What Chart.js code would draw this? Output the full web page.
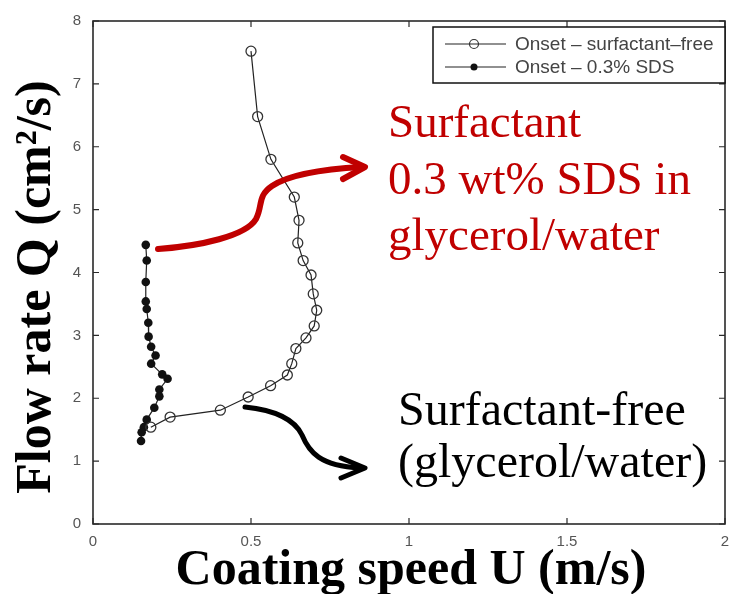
<!DOCTYPE html>
<html>
<head>
<meta charset="utf-8">
<script src="https://cdn.jsdelivr.net/npm/chart.js@4.4.1/dist/chart.umd.min.js"></script>
<style>
  html, body { margin: 0; padding: 0; background: #fff; }
  #wrap { position: relative; width: 739px; height: 594px; }
</style>
</head>
<body>
<div id="wrap"><canvas id="c" width="739" height="594"></canvas></div>
<script>
// ---- data ----
const surfFreeU = [0.500,0.521,0.563,0.637,0.652,0.648,0.665,0.690,0.697,0.708,0.700,0.674,0.642,0.629,0.615,0.562,0.491,0.403,0.244,0.183];
const surfFreeQ = [7.52,6.48,5.80,5.20,4.83,4.47,4.19,3.96,3.66,3.40,3.15,2.96,2.79,2.55,2.37,2.20,2.02,1.81,1.70,1.54];
const sdsU = [0.167,0.170,0.167,0.167,0.170,0.175,0.176,0.184,0.198,0.184,0.219,0.236,0.210,0.210,0.194,0.170,0.161,0.154,0.152];
const sdsQ = [4.44,4.19,3.85,3.54,3.42,3.20,2.98,2.82,2.68,2.55,2.38,2.31,2.14,2.03,1.85,1.66,1.54,1.46,1.32];
const xTickValues = [0, 0.5, 1, 1.5, 2];
const xTickLabels = ['0', '0.5', '1', '1.5', '2'];
const yTickValues = [0, 1, 2, 3, 4, 5, 6, 7, 8];
const yTickLabels = ['0', '1', '2', '3', '4', '5', '6', '7', '8'];
const seriesNames = ['Onset \u2013 surfactant\u2013free', 'Onset \u2013 0.3% SDS'];
const xTitle = 'Coating speed U (m/s)';
const yTitle = 'Flow rate Q (cm\u00B2/s)';
const redNote = ['Surfactant', '0.3 wt% SDS in', 'glycerol/water'];
const blackNote = ['Surfactant-free', '(glycerol/water)'];

const toPts = (xs, ys) => xs.map((x, i) => ({ x: x, y: ys[i] }));

const RED = '#c00000';
const SERIF = "'Liberation Serif', 'Times New Roman', serif";
const SANS = "'Liberation Sans', Arial, sans-serif";

const decor = {
  id: 'decor',
  afterDatasetsDraw(chart) {
    const ctx = chart.ctx;
    const a = chart.chartArea;
    const xs = chart.scales.x, ys = chart.scales.y;
    ctx.save();
    // frame
    ctx.strokeStyle = '#2a2a2a';
    ctx.lineWidth = 1.6;
    ctx.strokeRect(a.left, a.top, a.right - a.left, a.bottom - a.top);
    // inward ticks on all four sides
    ctx.lineWidth = 1.2;
    const tl = 6;
    ctx.beginPath();
    xTickValues.forEach(v => {
      const px = xs.getPixelForValue(v);
      ctx.moveTo(px, a.bottom); ctx.lineTo(px, a.bottom - tl);
      ctx.moveTo(px, a.top); ctx.lineTo(px, a.top + tl);
    });
    yTickValues.forEach(v => {
      const py = ys.getPixelForValue(v);
      ctx.moveTo(a.left, py); ctx.lineTo(a.left + tl, py);
      ctx.moveTo(a.right, py); ctx.lineTo(a.right - tl, py);
    });
    ctx.stroke();

    // legend box
    const lx = 433, ly = 27, lw = a.right - 433, lh = 56;
    ctx.fillStyle = '#fff';
    ctx.fillRect(lx, ly, lw, lh);
    ctx.strokeStyle = '#111';
    ctx.lineWidth = 1.5;
    ctx.strokeRect(lx, ly, lw, lh);
    const rows = [44, 67];
    chart.data.datasets.forEach((ds, i) => {
      const y = rows[i];
      ctx.strokeStyle = ds.borderColor;
      ctx.lineWidth = 1.2;
      ctx.beginPath(); ctx.moveTo(445, y); ctx.lineTo(506, y); ctx.stroke();
      ctx.beginPath();
      ctx.arc(474, y, i === 0 ? 4.5 : 3.5, 0, Math.PI * 2);
      if (i === 0) { ctx.strokeStyle = ds.pointBorderColor; ctx.stroke(); }
      else { ctx.fillStyle = ds.pointBackgroundColor; ctx.fill(); }
      ctx.fillStyle = '#444';
      ctx.font = '19px ' + SANS;
      ctx.textBaseline = 'middle';
      ctx.textAlign = 'left';
      ctx.fillText(ds.label, 515, y + 1);
    });

    // axis titles
    ctx.fillStyle = '#000';
    ctx.font = 'bold 50px ' + SERIF;
    ctx.textBaseline = 'alphabetic';
    ctx.textAlign = 'center';
    ctx.fillText(xTitle, (a.left + a.right) / 2 + 2, 584);
    ctx.save();
    ctx.translate(50, 287);
    ctx.rotate(-Math.PI / 2);
    ctx.fillText(yTitle, 0, 0);
    ctx.restore();

    // red annotation
    ctx.font = '47px ' + SERIF;
    ctx.textAlign = 'left';
    ctx.fillStyle = RED;
    const redBase = [137, 194, 250];
    redNote.forEach((t, i) => ctx.fillText(t, 388, redBase[i]));
    ctx.strokeStyle = RED;
    ctx.lineWidth = 6;
    ctx.lineCap = 'round';
    ctx.lineJoin = 'round';
    ctx.beginPath();
    ctx.moveTo(158, 249);
    ctx.bezierCurveTo(200, 246, 246, 236, 256, 219);
    ctx.bezierCurveTo(263, 206, 257, 196, 272, 186);
    ctx.bezierCurveTo(290, 174, 325, 169, 362, 167);
    ctx.stroke();
    ctx.beginPath();
    ctx.moveTo(343, 157); ctx.lineTo(365, 167); ctx.lineTo(343, 179);
    ctx.stroke();

    // black annotation
    ctx.fillStyle = '#000';
    ctx.font = '48px ' + SERIF;
    const blkBase = [425, 477];
    blackNote.forEach((t, i) => ctx.fillText(t, 398, blkBase[i]));
    ctx.strokeStyle = '#000';
    ctx.lineWidth = 5;
    ctx.beginPath();
    ctx.moveTo(245, 407);
    ctx.bezierCurveTo(275, 410, 295, 420, 302, 435);
    ctx.bezierCurveTo(309, 452, 320, 466, 360, 468);
    ctx.stroke();
    ctx.beginPath();
    ctx.moveTo(341, 458); ctx.lineTo(365, 468); ctx.lineTo(341, 478);
    ctx.stroke();
    ctx.restore();
  }
};

new Chart(document.getElementById('c'), {
  type: 'scatter',
  data: {
    datasets: [
      {
        label: seriesNames[0],
        data: toPts(surfFreeU, surfFreeQ),
        showLine: true,
        borderColor: '#222',
        borderWidth: 1.2,
        pointRadius: 5,
        pointBorderWidth: 1.3,
        pointBorderColor: '#333',
        pointBackgroundColor: 'rgba(0,0,0,0)',
        pointStyle: 'circle'
      },
      {
        label: seriesNames[1],
        data: toPts(sdsU, sdsQ),
        showLine: true,
        borderColor: '#222',
        borderWidth: 1.2,
        pointRadius: 4.3,
        pointBorderWidth: 0,
        pointBorderColor: '#111',
        pointBackgroundColor: '#111',
        pointStyle: 'circle'
      }
    ]
  },
  options: {
    responsive: false,
    animation: false,
    devicePixelRatio: 1,
    layout: { padding: { left: 0, top: 16, right: 14, bottom: 0 } },
    plugins: { legend: { display: false }, tooltip: { enabled: false } },
    scales: {
      x: {
        type: 'linear', min: 0, max: 2,
        afterBuildTicks: s => { s.ticks = xTickValues.map(v => ({ value: v })); },
        afterFit: s => { s.height = 70; },
        grid: { display: false, drawTicks: false },
        border: { display: false },
        ticks: {
          padding: 9,
          color: '#555',
          font: { family: SANS, size: 15 },
          callback: (v) => { const i = xTickValues.indexOf(v); return i >= 0 ? xTickLabels[i] : ''; }
        }
      },
      y: {
        type: 'linear', min: 0, max: 8,
        afterBuildTicks: s => { s.ticks = yTickValues.map(v => ({ value: v })); },
        afterFit: s => { s.width = 93; },
        grid: { display: false, drawTicks: false },
        border: { display: false },
        ticks: {
          padding: 12,
          color: '#555',
          font: { family: SANS, size: 15 },
          callback: (v) => { const i = yTickValues.indexOf(v); return i >= 0 ? yTickLabels[i] : ''; }
        }
      }
    }
  },
  plugins: [decor]
});
</script>
</body>
</html>
